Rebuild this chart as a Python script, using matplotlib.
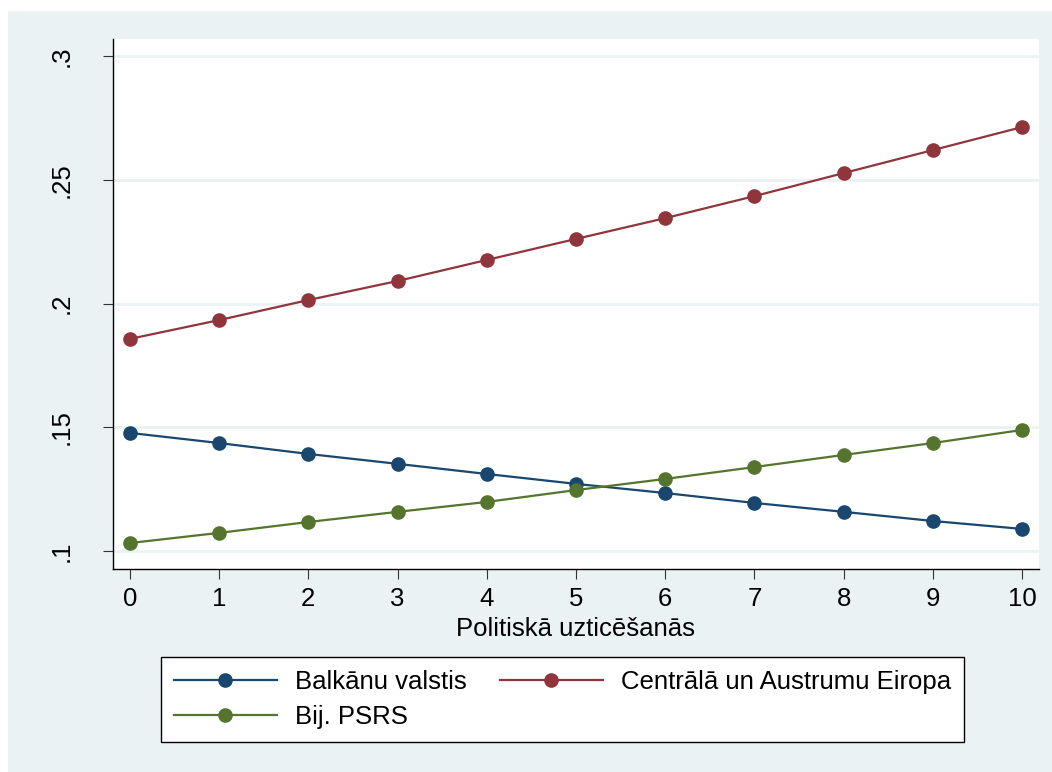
import matplotlib
matplotlib.use("Agg")
import matplotlib.pyplot as plt
from matplotlib.patches import Rectangle

# Data
x_vals = [0, 1, 2, 3, 4, 5, 6, 7, 8, 9, 10]
balkani = [0.1477, 0.1436, 0.1392, 0.1352, 0.1311, 0.1271, 0.1234, 0.1194, 0.1158, 0.1121, 0.1089]
centr_eiropa = [0.1857, 0.1933, 0.2014, 0.2091, 0.2176, 0.2261, 0.2345, 0.2434, 0.2527, 0.2620, 0.2713]
bij_psrs = [0.1032, 0.1073, 0.1117, 0.1158, 0.1198, 0.1246, 0.1291, 0.1339, 0.1388, 0.1436, 0.1489]
y_ticks = [0.1, 0.15, 0.2, 0.25, 0.3]
y_tick_labels = [".1", ".15", ".2", ".25", ".3"]
x_label = "Politiskā uzticēšanās"

NAVY = "#1a476f"
MAROON = "#90353b"
GREEN = "#55752f"
BG = "#eaf2f3"

plt.rcParams["font.family"] = ["Liberation Sans", "DejaVu Sans"]

W, H = 1052, 772
fig = plt.figure(figsize=(W / 100, H / 100), dpi=100, facecolor="white")
fig.patches.append(Rectangle((8 / W, 0), 1 - 8 / W, 1 - 11 / H, transform=fig.transFigure,
                             facecolor=BG, edgecolor="none", zorder=-10))

ax = fig.add_axes([113 / W, (H - 569) / H, (1039 - 113) / W, (569 - 39) / H])
ax.set_facecolor("white")

style = dict(marker="o", markersize=9.5, linewidth=1.6, clip_on=False)
l1, = ax.plot(x_vals, balkani, color=NAVY, label="Balkānu valstis", **style)
l2, = ax.plot(x_vals, centr_eiropa, color=MAROON, label="Centrālā un Austrumu Eiropa", **style)
l3, = ax.plot(x_vals, bij_psrs, color=GREEN, label="Bij. PSRS", **style)

ax.set_xlim(-0.19, 10.19)
ax.set_ylim(0.0927, 0.3069)
ax.set_xticks(x_vals)
ax.set_yticks(y_ticks)
ax.set_yticklabels(y_tick_labels, rotation=90, va="center")
ax.tick_params(axis="both", labelsize=18.5, length=7, width=0.8, color="#333333")
ax.tick_params(axis="y", pad=21)
ax.tick_params(axis="x", pad=6)
ax.grid(axis="y", color=BG, linewidth=2)
ax.set_axisbelow(True)

for side in ["top", "right"]:
    ax.spines[side].set_visible(False)
for side in ["left", "bottom"]:
    ax.spines[side].set_linewidth(1.0)
    ax.spines[side].set_color("black")

ax.set_xlabel(x_label, fontsize=18.5, labelpad=4)

leg = fig.legend(handles=[l1, l3, l2], ncol=2, loc="center",
                 bbox_to_anchor=(562.5 / W, 1 - 699.5 / H),
                 fontsize=18.5, frameon=True, fancybox=False, edgecolor="black",
                 facecolor="white", framealpha=1,
                 handlelength=4, handletextpad=0.7, columnspacing=1.3,
                 labelspacing=0.45, borderpad=0.5, borderaxespad=0)
leg.get_frame().set_linewidth(1.0)

fig.savefig("out.png", dpi=100, facecolor=fig.get_facecolor())
